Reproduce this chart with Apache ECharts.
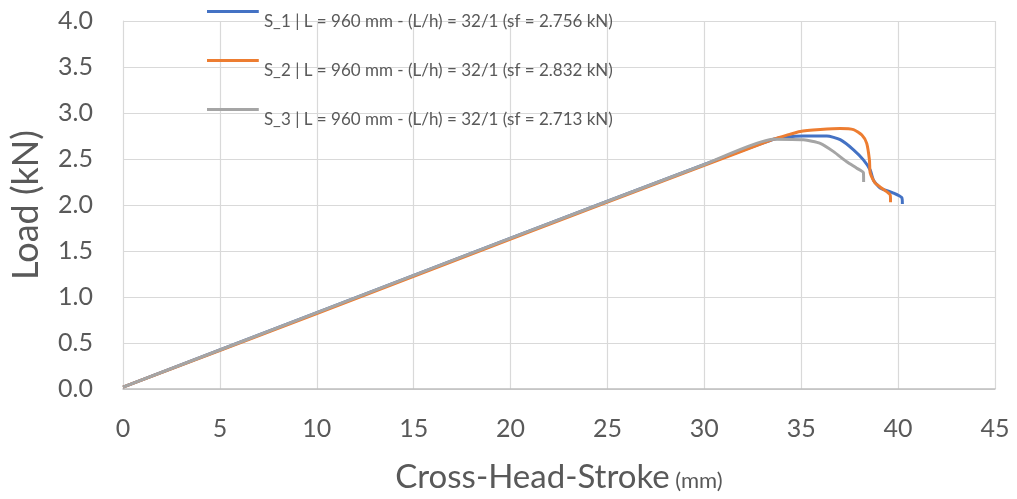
<!DOCTYPE html>
<html>
<head>
<meta charset="utf-8">
<script src="https://cdn.jsdelivr.net/npm/echarts@6/dist/echarts.min.js"></script>
<style>
  html, body { margin: 0; padding: 0; background: #fff; }
  #main { width: 1017px; height: 499px; }
</style>
</head>
<body>
<div id="main"></div>
<script>
// series names
var seriesNames = [
    'S_1 | L = 960 mm - (L/h) = 32/1 (sf = 2.756 kN)',
    'S_2 | L = 960 mm - (L/h) = 32/1 (sf = 2.832 kN)',
    'S_3 | L = 960 mm - (L/h) = 32/1 (sf = 2.713 kN)'
];
// stroke (mm) / load (kN)
var s1X = [0, 10, 20, 30, 33.57, 34.26, 35.12, 36.32, 37.01, 37.70, 38.21, 38.56, 38.73, 39.07, 39.76, 40.19, 40.22];
var s1Y = [0.02, 0.83, 1.64, 2.44, 2.715, 2.74, 2.75, 2.75, 2.71, 2.60, 2.49, 2.38, 2.27, 2.185, 2.13, 2.08, 2.01];
var s2X = [0, 10, 20, 30, 33.57, 34.26, 34.95, 35.98, 37.01, 37.70, 38.13, 38.38, 38.52, 38.56, 38.81, 39.24, 39.59, 39.61];
var s2Y = [0.02, 0.82, 1.63, 2.43, 2.715, 2.76, 2.80, 2.82, 2.832, 2.82, 2.76, 2.67, 2.49, 2.35, 2.24, 2.17, 2.11, 2.03];
var s3X = [0, 10, 20, 30, 33.57, 35.12, 35.98, 36.67, 37.35, 37.87, 38.21, 38.22];
var s3Y = [0.02, 0.83, 1.64, 2.44, 2.715, 2.708, 2.67, 2.58, 2.47, 2.40, 2.35, 2.25];
var colors = ['#4472C4', '#ED7D31', '#A5A5A5'];

function pairs(xs, ys) {
    var out = [];
    for (var i = 0; i < xs.length; i++) out.push([xs[i], ys[i]]);
    return out;
}

var chart = echarts.init(document.getElementById('main'));
var font = 'Lato, "Open Sans", sans-serif';
var allX = [s1X, s2X, s3X], allY = [s1Y, s2Y, s3Y];

// legend line sits above its label, like the excel original
var legendIcon = 'path://M0,0L52,0L52,3L0,3Z M0,24L0.1,24L0.1,24.1L0,24.1Z';

var option = {
    animation: false,
    color: colors,
    textStyle: { fontFamily: font },
    grid: { left: 122, right: 22, top: 21, bottom: 109, containLabel: false },
    legend: {
        orient: 'vertical',
        left: 207,
        top: 10,
        padding: 0,
        icon: legendIcon,
        itemWidth: 52,
        itemHeight: 24,
        itemGap: 25,
        selectedMode: false,
        data: seriesNames,
        textStyle: { fontFamily: font, fontSize: 17, color: '#595959' }
    },
    xAxis: {
        type: 'value',
        min: 0, max: 45, interval: 5,
        name: '{a|Cross-Head-Stroke}{b| (mm)}',
        nameLocation: 'middle',
        nameGap: 72,
        nameTextStyle: {
            rich: {
                a: { fontFamily: font, fontSize: 33, color: '#595959' },
                b: { fontFamily: font, fontSize: 22, color: '#595959', padding: [7, 0, 0, 0] }
            }
        },
        axisLine: { lineStyle: { color: '#bfbfbf', width: 1.5 } },
        axisTick: { show: false },
        axisLabel: { fontSize: 25, color: '#595959', margin: 27, fontFamily: font },
        splitLine: { lineStyle: { color: '#d9d9d9', width: 1.2 } }
    },
    yAxis: {
        type: 'value',
        min: 0, max: 4, interval: 0.5,
        name: 'Load (kN)',
        nameLocation: 'middle',
        nameGap: 79,
        nameTextStyle: { fontFamily: font, fontSize: 36, color: '#595959' },
        axisLine: { show: true, lineStyle: { color: '#d9d9d9' } },
        axisTick: { show: false },
        axisLabel: { fontSize: 25, color: '#595959', margin: 30, fontFamily: font,
            formatter: function (v) { return v.toFixed(1); } },
        splitLine: { lineStyle: { color: '#d9d9d9', width: 1.2 } }
    },
    series: seriesNames.map(function (n, i) {
        return {
            name: n,
            type: 'line',
            symbol: 'none',
            smooth: 0.2,
            data: pairs(allX[i], allY[i]),
            lineStyle: { width: 3, color: colors[i] },
            z: 2 + i
        };
    })
};
chart.setOption(option);
</script>
</body>
</html>
